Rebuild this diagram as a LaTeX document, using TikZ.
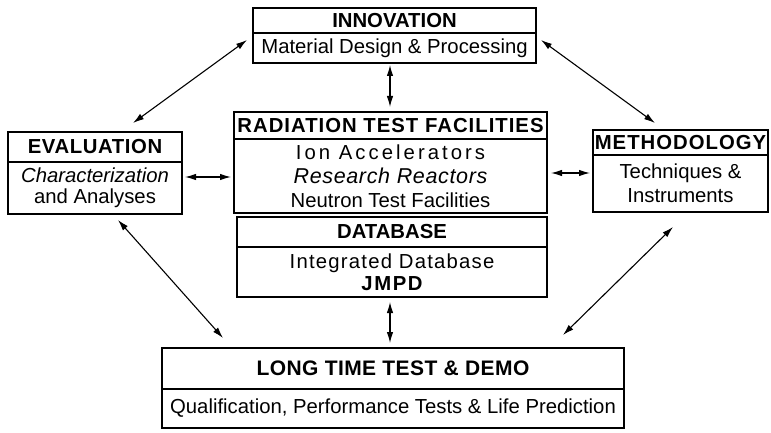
\documentclass[tikz,border=0pt]{standalone}
\usepackage{fontspec}
\setmainfont{Liberation Sans}
\usetikzlibrary{arrows.meta}
\newcommand{\ls}[1]{\addfontfeature{LetterSpace=#1}}
\begin{document}
\begin{tikzpicture}[x=1pt,y=-1pt,
  box/.style={draw, line width=1.4pt, inner sep=0pt, outer sep=0pt, align=center,
    font=\fontsize{20.3}{24}\selectfont},
  arr/.style={{Latex[length=11pt,width=6.5pt]}-{Latex[length=11pt,width=6.5pt]}, line width=1.1pt}]
\useasboundingbox (0,0) rectangle (771,433);

% Innovation
\node[box, minimum width=283pt, minimum height=25pt] (innovT) at (394.5,20.5) {\bfseries INNOVATION};
\node[box, minimum width=283pt, minimum height=30pt] (innovB) at (394.5,48) {Material Design \& Processing};

% Evaluation
\node[box, minimum width=174pt, minimum height=30pt] (evalT) at (95,147) {\bfseries\ls{3}EVALUATION};
\node[box, minimum width=174pt, minimum height=52pt, font=\fontsize{20.3}{21.5}\selectfont] (evalB) at (95,188) {\itshape Characterization\\and Analyses};

% Radiation test facilities
\node[box, minimum width=313pt, minimum height=27pt] (radT) at (390.5,125.5) {\bfseries\ls{5}RADIATION TEST FACILITIES};
\node[box, minimum width=313pt, minimum height=74pt] (radB) at (390.5,176)
  {{\ls{15}Ion Accelerators}\\{\fontsize{21.5}{24}\selectfont\itshape\ls{3}Research Reactors}\\Neutron Test Facilities};

% Database
\node[box, minimum width=310pt, minimum height=30pt] (dbT) at (392,232) {\bfseries DATABASE};
\node[box, minimum width=310pt, minimum height=50pt, font=\fontsize{20.3}{22}\selectfont] (dbB) at (392,272)
  {{\ls{6}Integrated Database}\\{\bfseries\ls{8}JMPD}};

% Methodology
\node[box, minimum width=175pt, minimum height=25pt] (methT) at (680.5,142.5) {\bfseries\ls{5}METHODOLOGY};
\node[box, minimum width=175pt, minimum height=57pt] (methB) at (680.5,183.5) {Techniques \&\\Instruments};

% Long time test
\node[box, minimum width=462pt, minimum height=41pt, font=\fontsize{21}{24}\selectfont] (longT) at (393,368.5) {\bfseries\ls{2}LONG TIME TEST \& DEMO};
\node[box, minimum width=462pt, minimum height=39pt] (longB) at (393,408.5) {Qualification, Performance Tests \& Life Prediction};

% Connectors
\draw[arr] ([shift={(-6,-8)}]innovB.west) -- ([shift={(38,-9)}]evalT.north);
\draw[arr] ([shift={(5,-8)}]innovB.east) -- ([shift={(-25.5,-7)}]methT.north);
\draw[arr] ([shift={(23,6)}]evalB.south) -- ([shift={(61,-10)}]longT.north west);
\draw[arr] ([shift={(-7.5,15)}]methB.south) -- ([shift={(-61,-13)}]longT.north east);
\draw[arr] ([shift={(3,-11)}]evalB.east) -- ([shift={(-3,1)}]radB.west);
\draw[arr] ([shift={(4,-3)}]radB.east) -- ([shift={(-3,-10.5)}]methB.west);
\draw[arr] ([shift={(-4.5,2)}]innovB.south) -- ([shift={(-0.5,-5)}]radT.north);
\draw[arr] ([shift={(-2,5)}]dbB.south) -- ([shift={(-3,-5)}]longT.north);
\end{tikzpicture}
\end{document}
